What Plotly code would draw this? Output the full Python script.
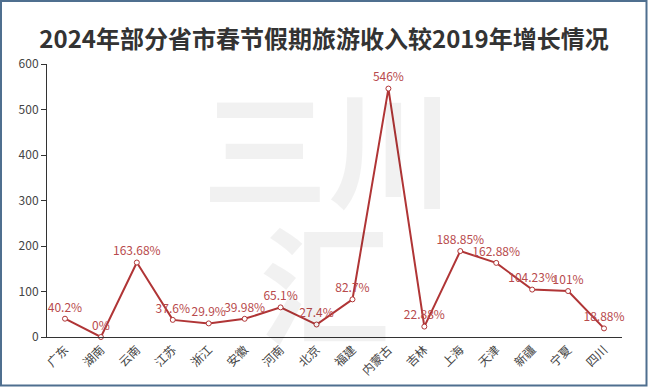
import plotly.graph_objects as go

categories = ["广东", "湖南", "云南", "江苏", "浙江", "安徽", "河南", "北京",
              "福建", "内蒙古", "吉林", "上海", "天津", "新疆", "宁夏", "四川"]
values = [40.2, 0, 163.68, 37.6, 29.9, 39.98, 65.1, 27.4,
          82.7, 546, 22.88, 188.85, 162.88, 104.23, 101, 18.88]
labels = ["40.2%", "0%", "163.68%", "37.6%", "29.9%", "39.98%", "65.1%", "27.4%",
          "82.7%", "546%", "22.88%", "188.85%", "162.88%", "104.23%", "101%", "18.88%"]
y_ticks = [0, 100, 200, 300, 400, 500, 600]
title = "2024年部分省市春节假期旅游收入较2019年增长情况"

FONT = "Noto Sans CJK SC"

fig = go.Figure()
fig.add_trace(go.Scatter(
    x=categories, y=values, mode="lines+markers+text",
    text=labels, textposition="top center",
    textfont=dict(family=FONT, size=12, color="#b84a4c"),
    line=dict(color="#b03536", width=2),
    marker=dict(symbol="circle", size=5, color="white",
                line=dict(color="#b03536", width=1)),
    cliponaxis=False, showlegend=False,
))

W, H = 648, 387
l, r, t, b = 47, 26, 64, 50
pw, ph = W - l - r, H - t - b

def px(x):
    return (x - l) / pw

def py(y):
    return (H - b - y) / ph

# watermark
fig.add_annotation(text="<b>三川</b>", x=px(328), y=py(143), xref="paper", yref="paper",
                   showarrow=False, font=dict(family=FONT, size=126, color="rgba(0,0,0,0.055)"),
                   xanchor="center", yanchor="middle")
fig.add_annotation(text="<b>汇</b>", x=px(325), y=py(278), xref="paper", yref="paper",
                   showarrow=False, font=dict(family=FONT, size=130, color="rgba(0,0,0,0.055)"),
                   xanchor="center", yanchor="middle")

# outer border
fig.add_shape(type="rect", xref="paper", yref="paper",
              x0=px(1), x1=px(646.5), y0=py(385.5), y1=py(1),
              line=dict(color="#4f6f8f", width=2), fillcolor="rgba(0,0,0,0)", layer="above")

fig.update_layout(
    width=W, height=H,
    margin=dict(l=l, r=r, t=t, b=b, autoexpand=False),
    paper_bgcolor="white", plot_bgcolor="white",
    title=dict(text="<b>" + title + "</b>", x=0.5, xanchor="center",
               y=1 - 40 / H, yanchor="middle",
               font=dict(family=FONT, size=24, color="#333333")),
    font=dict(family=FONT, size=12, color="#333333"),
    xaxis=dict(type="category", showgrid=False, showline=True, linecolor="#333333",
               linewidth=1, ticks="", tickangle=-45, automargin=False,
               tickfont=dict(family=FONT, size=12, color="#444444"),
               range=[-0.5, len(categories) - 0.5], fixedrange=True),
    yaxis=dict(range=[0, 600], tickvals=y_ticks, showgrid=False, showline=True,
               linecolor="#333333", linewidth=1, ticks="outside", ticklen=5,
               tickcolor="#333333", zeroline=False, automargin=False,
               tickfont=dict(family=FONT, size=12, color="#444444")),
)

fig.write_html("out.html", config={"displayModeBar": False},
               post_script="document.body.style.margin='0px';document.body.style.padding='0px';")
